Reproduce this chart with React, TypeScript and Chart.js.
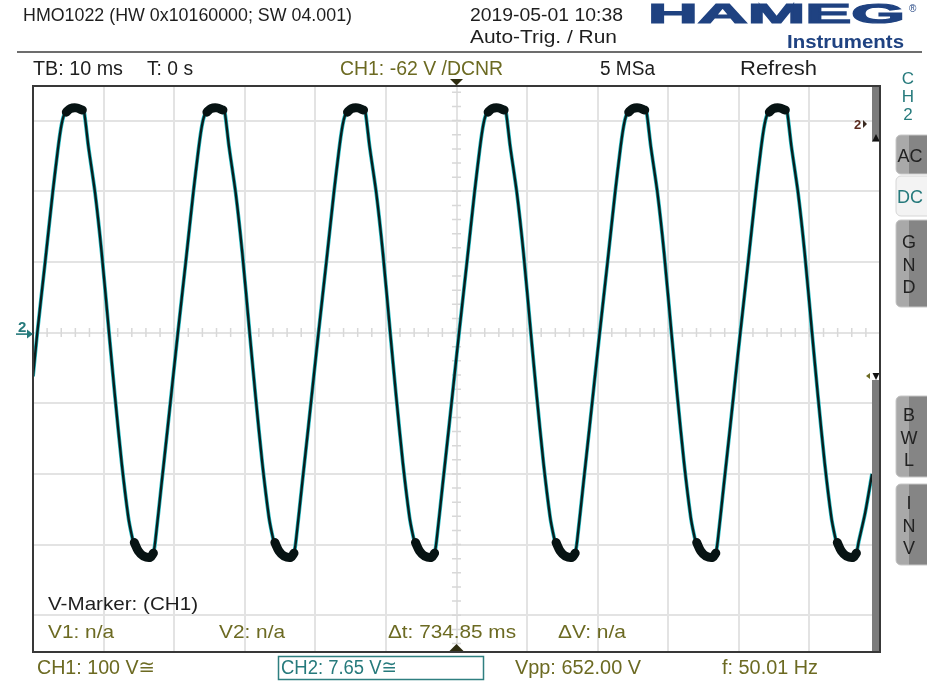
import React, { useEffect, useRef } from "react";
import { Chart, registerables } from "chart.js";

Chart.register(...registerables);

// ---- Data (time in ms, trace in volts, 100 V/div) ----
const traceTimeMs = [
  -60.0,
  -59.39, -58.3, -57.21, -56.49, -56.07, -55.71, -55.28, -54.71, -53.86, -53.01, -52.73, -52.16, -51.21, -50.27,
  -49.23, -48.38, -47.43, -46.5, -46.07, -45.65, -45.08, -44.37, -43.38, -42.94, -42.66, -41.82, -40.89, -40.11,
  -39.47, -38.38, -37.29, -36.57, -36.15, -35.79, -35.36, -34.79, -33.94, -33.09, -32.81, -32.24, -31.29, -30.35,
  -29.31, -28.46, -27.51, -26.58, -26.15, -25.73, -25.16, -24.45, -23.46, -23.02, -22.74, -21.9, -20.97, -20.19,
  -19.55, -18.46, -17.37, -16.65, -16.23, -15.87, -15.44, -14.87, -14.02, -13.17, -12.89, -12.32, -11.37, -10.43,
  -9.39, -8.54, -7.59, -6.66, -6.23, -5.81, -5.24, -4.53, -3.54, -3.1, -2.82, -1.98, -1.05, -0.27,
  0.37, 1.46, 2.55, 3.27, 3.69, 4.05, 4.48, 5.05, 5.9, 6.75, 7.03, 7.6, 8.55, 9.49,
  10.53, 11.38, 12.33, 13.26, 13.69, 14.11, 14.68, 15.39, 16.38, 16.82, 17.1, 17.94, 18.87, 19.65,
  20.29, 21.38, 22.47, 23.19, 23.61, 23.97, 24.4, 24.97, 25.82, 26.67, 26.95, 27.52, 28.47, 29.41,
  30.45, 31.3, 32.25, 33.18, 33.61, 34.03, 34.6, 35.31, 36.3, 36.74, 37.02, 37.86, 38.79, 39.57,
  40.21, 41.3, 42.39, 43.11, 43.53, 43.89, 44.32, 44.89, 45.74, 46.59, 46.87, 47.44, 48.39, 49.33,
  50.37, 51.22, 52.17, 53.1, 53.53, 53.95, 54.52, 55.23, 56.22, 56.66, 56.98, 57.9, 58.87,
];

const traceVolts = [
  -62,
  0, 98, 198, 258, 288, 305, 314, 318, 319, 318, 311, 264, 198, 113,
  0, -91, -185, -261, -284, -301, -312, -318, -319, -312, -294, -217, -132, -59,
  0, 98, 198, 258, 288, 305, 314, 318, 319, 318, 311, 264, 198, 113,
  0, -91, -185, -261, -284, -301, -312, -318, -319, -312, -294, -217, -132, -59,
  0, 98, 198, 258, 288, 305, 314, 318, 319, 318, 311, 264, 198, 113,
  0, -91, -185, -261, -284, -301, -312, -318, -319, -312, -294, -217, -132, -59,
  0, 98, 198, 258, 288, 305, 314, 318, 319, 318, 311, 264, 198, 113,
  0, -91, -185, -261, -284, -301, -312, -318, -319, -312, -294, -217, -132, -59,
  0, 98, 198, 258, 288, 305, 314, 318, 319, 318, 311, 264, 198, 113,
  0, -91, -185, -261, -284, -301, -312, -318, -319, -312, -294, -217, -132, -59,
  0, 98, 198, 258, 288, 305, 314, 318, 319, 318, 311, 264, 198, 113,
  0, -91, -185, -261, -284, -301, -312, -318, -319, -312, -296, -255, -200,
];

// thick noise band at the crests and troughs (null = gap)
const bandTimeMs = [
  -55.28, -54.71, -53.86, -53.01, -50,
  -45.65, -45.08, -44.37, -43.38, -42.94, -40,
  -35.36, -34.79, -33.94, -33.09, -30,
  -25.73, -25.16, -24.45, -23.46, -23.02, -20,
  -15.44, -14.87, -14.02, -13.17, -10,
  -5.81, -5.24, -4.53, -3.54, -3.1, 0,
  4.48, 5.05, 5.9, 6.75, 10,
  14.11, 14.68, 15.39, 16.38, 16.82, 20,
  24.4, 24.97, 25.82, 26.67, 30,
  34.03, 34.6, 35.31, 36.3, 36.74, 40,
  44.32, 44.89, 45.74, 46.59, 50,
  53.95, 54.52, 55.23, 56.22, 56.66,
];
const bandMidV = [
  312, 317, 318, 315, null,
  -297, -309, -316, -318, -312, null,
  312, 317, 318, 315, null,
  -297, -309, -316, -318, -312, null,
  312, 317, 318, 315, null,
  -297, -309, -316, -318, -312, null,
  312, 317, 318, 315, null,
  -297, -309, -316, -318, -312, null,
  312, 317, 318, 315, null,
  -297, -309, -316, -318, -312, null,
  312, 317, 318, 315, null,
  -297, -309, -316, -318, -312,
];

const timeGridMs = [-60, -50, -40, -30, -20, -10, 0, 10, 20, 30, 40, 50, 60];
const voltGrid = [-400, -300, -200, -100, 0, 100, 200, 300];
const timeRange = [-60, 60];
const voltRange = [-452, 349];

// ---- texts ----
const headerText = "HMO1022 (HW 0x10160000; SW 04.001)";
const dateText = "2019-05-01 10:38";
const trigModeText = "Auto-Trig. / Run";
const statusTexts = ["TB: 10 ms", "T: 0 s", "CH1: -62 V /DCNR", "5 MSa", "Refresh"];
const markerTitle = "V-Marker: (CH1)";
const markerTexts = ["V1: n/a", "V2: n/a", "\u0394t: 734.85 ms", "\u0394V: n/a"];
const bottomTexts = ["CH1: 100 V\u2245", "CH2: 7.65 V\u2245", "Vpp: 652.00 V", "f: 50.01 Hz"];

const FONT = '"Liberation Sans", Arial, "DejaVu Sans", sans-serif';
const OLIVE = "#6c6a22";
const TEAL = "#267a7c";
const INK = "#1e1e1e";
const LOGO = "#1f4281";

function drawText(
  ctx: CanvasRenderingContext2D,
  s: string,
  x: number,
  y: number,
  size: number,
  color: string,
  width?: number,
  bold = false,
  align: CanvasTextAlign = "left",
  strokeW = 0
) {
  ctx.save();
  ctx.font = `${bold ? "bold " : ""}${size}px ${FONT}`;
  ctx.fillStyle = color;
  ctx.textBaseline = "alphabetic";
  ctx.textAlign = align;
  if (width) {
    const m = ctx.measureText(s).width;
    ctx.translate(x, y);
    ctx.scale(width / m, 1);
    ctx.fillText(s, 0, 0);
    if (strokeW) {
      ctx.strokeStyle = color;
      ctx.lineWidth = strokeW;
      ctx.lineJoin = "miter";
      ctx.strokeText(s, 0, 0);
    }
  } else {
    ctx.fillText(s, x, y);
  }
  ctx.restore();
}

function tri(ctx: CanvasRenderingContext2D, pts: number[][], color: string) {
  ctx.beginPath();
  ctx.moveTo(pts[0][0], pts[0][1]);
  for (let i = 1; i < pts.length; i++) ctx.lineTo(pts[i][0], pts[i][1]);
  ctx.closePath();
  ctx.fillStyle = color;
  ctx.fill();
}

function button(ctx: CanvasRenderingContext2D, y0: number, y1: number, letters: string[], light = false) {
  const x0 = 896;
  const x1 = 930;
  ctx.save();
  ctx.beginPath();
  (ctx as any).roundRect(x0, y0, x1 - x0, y1 - y0, [5, 0, 0, 5]);
  if (light) {
    ctx.fillStyle = "#f3f3f3";
    ctx.fill();
    ctx.strokeStyle = "#d6d6d6";
    ctx.lineWidth = 1;
    ctx.stroke();
  } else {
    ctx.fillStyle = "#858585";
    ctx.fill();
    ctx.save();
    ctx.clip();
    ctx.fillStyle = "#a9a9a9";
    ctx.fillRect(x0, y0, 13, y1 - y0);
    ctx.restore();
    ctx.strokeStyle = "#c8c8c8";
    ctx.lineWidth = 1;
    ctx.stroke();
  }
  ctx.restore();
  if (letters.length === 1) {
    drawText(ctx, letters[0], 910, (y0 + y1) / 2 + 7, 18, light ? TEAL : "#222", undefined, false, "center");
  } else {
    const n = letters.length;
    const step = 22.5;
    const mid = (y0 + y1) / 2;
    letters.forEach((l, i) => {
      drawText(ctx, l, 909, mid + (i - (n - 1) / 2) * step + 7, 18, "#222", undefined, false, "center");
    });
  }
}

const scopePlugin = {
  id: "scopeScreen",
  beforeDraw(chart: any) {
    const ctx = chart.ctx as CanvasRenderingContext2D;
    ctx.save();
    ctx.fillStyle = "#ffffff";
    ctx.fillRect(0, 0, chart.width, chart.height);
    ctx.restore();
  },
  beforeDatasetsDraw(chart: any) {
    const ctx = chart.ctx as CanvasRenderingContext2D;
    const xs = chart.scales.x;
    const ys = chart.scales.y;
    const cx = xs.getPixelForValue(0);
    const cy = ys.getPixelForValue(0);
    ctx.save();
    ctx.strokeStyle = "#d8d8d8";
    ctx.lineWidth = 1.5;
    ctx.beginPath();
    for (let v = -440; v <= 340; v += 20) {
      const y = ys.getPixelForValue(v);
      ctx.moveTo(cx - 4.5, y);
      ctx.lineTo(cx + 4.5, y);
    }
    for (let t = -60; t <= 60; t += 2) {
      const x = xs.getPixelForValue(t);
      ctx.moveTo(x, cy - 4.5);
      ctx.lineTo(x, cy + 4.5);
    }
    ctx.stroke();
    ctx.restore();

    // marker panel texts (under the trace)
    drawText(ctx, markerTitle, 48, 610, 19, INK, 150);
    const mx = [48, 219, 388, 558];
    const mw = [66, 66, 128, 68];
    markerTexts.forEach((s, i) => drawText(ctx, s, mx[i], 638, 19, OLIVE, mw[i]));
  },
  afterDatasetsDraw(chart: any) {
    const ctx = chart.ctx as CanvasRenderingContext2D;
    const a = chart.chartArea;
    ctx.save();
    // right scroll bar
    ctx.fillStyle = "#7b7b7b";
    ctx.fillRect(a.right - 8, a.top, 8, 56);
    ctx.fillRect(a.right - 8, 380, 8, a.bottom - 380);
    tri(ctx, [[a.right - 7.5, 141], [a.right - 0.5, 141], [a.right - 4, 134]], "#111");
    tri(ctx, [[a.right - 7.5, 373], [a.right - 0.5, 373], [a.right - 4, 380]], "#111");
    tri(ctx, [[a.right - 10, 373], [a.right - 10, 379], [a.right - 14, 376]], OLIVE);
    // frame
    ctx.strokeStyle = "#383838";
    ctx.lineWidth = 2;
    ctx.strokeRect(a.left, a.top, a.right - a.left, a.bottom - a.top);
    // trigger position markers
    const cx = chart.scales.x.getPixelForValue(0);
    tri(ctx, [[cx - 6.5, 79], [cx + 6.5, 79], [cx, 85.5]], "#2e2c10");
    tri(ctx, [[cx - 7, a.bottom - 1], [cx + 7, a.bottom - 1], [cx, a.bottom - 8]], "#2e2c10");
    // channel 2 ground marker (left)
    const gy = chart.scales.y.getPixelForValue(0);
    drawText(ctx, "2", 18, gy - 1, 15, TEAL, undefined, true);
    ctx.strokeStyle = TEAL;
    ctx.lineWidth = 1.6;
    ctx.beginPath();
    ctx.moveTo(16, gy + 1.5);
    ctx.lineTo(30, gy + 1.5);
    ctx.stroke();
    tri(ctx, [[27, gy - 3], [27, gy + 6], [33, gy + 1.5]], TEAL);
    // trace label (right)
    drawText(ctx, "2", 854, 129, 13, "#5a2a1e", undefined, true);
    tri(ctx, [[863, 120], [863, 128], [867, 124]], "#3a2a20");
    ctx.restore();
  },
  afterDraw(chart: any) {
    const ctx = chart.ctx as CanvasRenderingContext2D;
    ctx.save();
    // header
    drawText(ctx, headerText, 23, 21, 18, INK, 329);
    drawText(ctx, dateText, 470, 21, 18, INK, 153);
    drawText(ctx, trigModeText, 470, 43, 18, INK, 147);
    // logo
    drawText(ctx, "HAMEG", 648, 22.5, 27, LOGO, 257, true, "left", 1.2);
    drawText(ctx, "\u00AE", 909, 12, 10, LOGO);
    drawText(ctx, "Instruments", 787, 47.5, 18, LOGO, 117, true);
    // separator
    ctx.strokeStyle = "#3c3c3c";
    ctx.lineWidth = 1.5;
    ctx.beginPath();
    ctx.moveTo(17, 52);
    ctx.lineTo(922, 52);
    ctx.stroke();
    // status row
    const sx = [33, 147, 340, 600, 740];
    const sw = [90, 46, 163, 55, 77];
    statusTexts.forEach((s, i) => drawText(ctx, s, sx[i], 75, 20, i === 2 ? OLIVE : INK, sw[i]));
    // CH2 vertical label
    ["C", "H", "2"].forEach((l, i) => drawText(ctx, l, 908, 84 + i * 18, 17, TEAL, undefined, false, "center"));
    // side buttons
    button(ctx, 135, 174, ["AC"]);
    button(ctx, 176, 216, ["DC"], true);
    button(ctx, 220, 307, ["G", "N", "D"]);
    button(ctx, 396, 477, ["B", "W", "L"]);
    button(ctx, 484, 565, ["I", "N", "V"]);
    // bottom row
    drawText(ctx, bottomTexts[0], 37, 674, 20, OLIVE, 118);
    ctx.strokeStyle = "#2f7f80";
    ctx.lineWidth = 1.5;
    ctx.strokeRect(278.5, 656.5, 205, 23);
    drawText(ctx, bottomTexts[1], 281, 674, 20, TEAL, 116);
    drawText(ctx, bottomTexts[2], 515, 674, 20, OLIVE, 126);
    drawText(ctx, bottomTexts[3], 722, 674, 20, OLIVE, 96);
    ctx.restore();
  },
};

export default function App() {
  const canvasRef = useRef<HTMLCanvasElement | null>(null);

  useEffect(() => {
    const canvas = canvasRef.current;
    if (!canvas) return;
    const trace = traceTimeMs.map((t, i) => ({ x: t, y: traceVolts[i] }));
    const band = bandTimeMs.map((t, i) => ({ x: t, y: bandMidV[i] }));

    const chart = new Chart(canvas, {
      type: "line",
      data: {
        datasets: [
          {
            label: "CH2 noise",
            data: band as any,
            borderColor: "#071313",
            borderWidth: 9,
            borderCapStyle: "round",
            borderJoinStyle: "round",
            pointRadius: 0,
            spanGaps: false,
            tension: 0.3,
            order: 0,
          },
          {
            label: "CH2",
            data: trace,
            borderColor: "#0a1e1e",
            borderWidth: 2.4,
            pointRadius: 0,
            tension: 0.25,
            order: 1,
          },
          {
            label: "CH2 edge",
            data: trace,
            borderColor: "#22bcc4",
            borderWidth: 3.8,
            pointRadius: 0,
            tension: 0.25,
            order: 2,
          },
        ],
      },
      options: {
        responsive: false,
        animation: false,
        devicePixelRatio: 1,
        layout: { padding: { left: 33, top: 86, right: 47, bottom: 35 } },
        plugins: {
          legend: { display: false },
          tooltip: { enabled: false },
          title: { display: false },
        },
        events: [],
        scales: {
          x: {
            type: "linear",
            min: timeRange[0],
            max: timeRange[1],
            afterBuildTicks: (s: any) => {
              s.ticks = timeGridMs.map((v) => ({ value: v }));
            },
            ticks: { display: false },
            grid: { color: "#e3e3e3", lineWidth: 2, drawTicks: false },
            border: { display: false },
          },
          y: {
            type: "linear",
            min: voltRange[0],
            max: voltRange[1],
            afterBuildTicks: (s: any) => {
              s.ticks = voltGrid.map((v) => ({ value: v }));
            },
            ticks: { display: false },
            grid: { color: "#e3e3e3", lineWidth: 2, drawTicks: false },
            border: { display: false },
          },
        },
      },
      plugins: [scopePlugin],
    });
    return () => chart.destroy();
  }, []);

  return (
    <div style={{ position: "absolute", left: 0, top: 0, width: 927, height: 687, background: "#fff" }}>
      <canvas ref={canvasRef} width={927} height={687} style={{ display: "block" }} />
    </div>
  );
}
